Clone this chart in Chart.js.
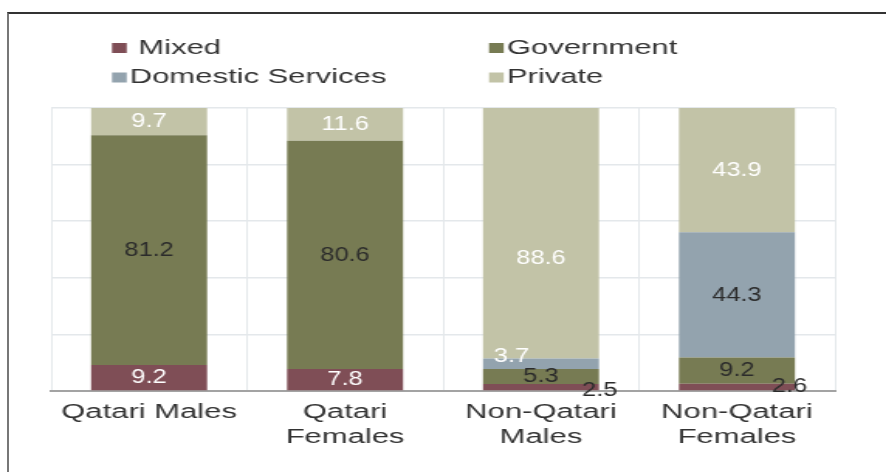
<!DOCTYPE html>
<html>
<head>
<meta charset="utf-8">
<script src="https://cdn.jsdelivr.net/npm/chart.js@4/dist/chart.umd.min.js"></script>
<style>
  html, body { margin: 0; padding: 0; background: #fff; }
  #stage { position: relative; width: 886px; height: 472px; overflow: hidden; }
  /* the reference is stretched sideways, so the chart is drawn narrow and widened */
  #wrap { position: absolute; left: 0; top: 0; width: 572px; height: 472px;
          transform: scaleX(1.549); transform-origin: 0 0; }
  #frame { position: absolute; left: 7px; top: 12px; right: -10px; bottom: -10px;
           border-top: 2px solid #333; border-left: 2px solid #777; }
</style>
</head>
<body>
<div id="stage">
  <div id="wrap"><canvas id="chart" width="572" height="472"></canvas></div>
  <div id="frame"></div>
</div>
<script>
const categories = [['Qatari Males'], ['Qatari', 'Females'], ['Non-Qatari', 'Males'], ['Non-Qatari', 'Females']];
const seriesNames = ['Mixed', 'Government', 'Domestic Services', 'Private'];
const mixed      = [9.2, 7.8, 2.5, 2.6];
const government = [81.2, 80.6, 5.3, 9.2];
const domestic   = [null, null, 3.7, 44.3];
const privateSec = [9.7, 11.6, 88.6, 43.9];
const yTicks = [0, 20, 40, 60, 80, 100];

const colors = ['#7f4e56', '#777b53', '#93a3ae', '#c2c3a7'];
const labelColors = ['#ffffff', '#2b2b2b', '#2b2b2b', '#ffffff'];
// labels that sit off-centre in the reference (dataset:index)
const labelNudge = {
  '0:2': { dx: 38, dy: 3, color: '#2b2b2b' },
  '0:3': { dx: 34, dy: -1, color: '#2b2b2b' },
  '2:2': { dx: -19, dy: -7, color: '#ffffff' },
  '3:2': { dy: 25 }
};

const segLabels = {
  id: 'segLabels',
  afterDatasetsDraw(chart) {
    const ctx = chart.ctx;
    chart.data.datasets.forEach((ds, di) => {
      chart.getDatasetMeta(di).data.forEach((bar, i) => {
        const v = ds.data[i];
        if (v == null) return;
        const o = labelNudge[di + ':' + i] || {};
        ctx.save();
        ctx.translate(bar.x + (o.dx || 0), (bar.y + bar.base) / 2 + (o.dy || 0));
        ctx.scale(0.8, 1);
        ctx.font = '20.5px "Liberation Sans", Arial, sans-serif';
        ctx.fillStyle = o.color || labelColors[di];
        ctx.textAlign = 'center';
        ctx.textBaseline = 'middle';
        ctx.fillText(v.toFixed(1), 0, 0);
        ctx.restore();
      });
    });
  }
};

// two-column legend like the reference
const colLegend = {
  id: 'colLegend',
  afterDraw(chart) {
    const ctx = chart.ctx;
    const cols = [72.3, 315.7];
    const rows = [48, 77.5];
    const order = [[0, 0, 0], [1, 1, 0], [2, 0, 1], [3, 1, 1]];
    ctx.save();
    ctx.font = '20px "Liberation Sans", Arial, sans-serif';
    ctx.textBaseline = 'middle';
    ctx.textAlign = 'left';
    order.forEach(([di, c, r]) => {
      const x = cols[c], y = rows[r];
      ctx.fillStyle = colors[di];
      ctx.fillRect(x, y - 5, 9.5, 10);
      ctx.fillStyle = '#333';
      const txt = di === 0 ? ' ' + seriesNames[di] : seriesNames[di];
      ctx.fillText(txt, x + 11.5, y);
    });
    ctx.restore();
  }
};

const seriesData = [mixed, government, domestic, privateSec];

new Chart(document.getElementById('chart'), {
  type: 'bar',
  data: {
    labels: categories,
    datasets: seriesNames.map((name, i) => ({
      label: name,
      data: seriesData[i],
      backgroundColor: colors[i],
      borderWidth: 0,
      barPercentage: 0.592,
      categoryPercentage: 1,
    })),
  },
  options: {
    responsive: false,
    animation: false,
    events: [],
    layout: { padding: { top: 108, left: 33, right: 33, bottom: 0 } },
    plugins: { legend: { display: false }, tooltip: { enabled: false } },
    scales: {
      x: {
        stacked: true,
        grid: { color: '#e4e8eb', lineWidth: 1, drawTicks: false },
        border: { color: '#a3a3a3', width: 2 },
        ticks: {
          color: '#333',
          padding: 9,
          font: { family: '"Liberation Sans", Arial, sans-serif', size: 20, lineHeight: 1.25 },
          maxRotation: 0,
        },
        afterFit(scale) { scale.height = 81; },
      },
      y: {
        stacked: true,
        min: 0,
        max: 100,
        afterBuildTicks(scale) { scale.ticks = yTicks.map(v => ({ value: v })); },
        grid: { color: '#e4e8eb', lineWidth: 1.5, drawTicks: false },
        border: { display: false },
        ticks: { display: false },
        afterFit(scale) { scale.width = 0; },
      },
    },
  },
  plugins: [segLabels, colLegend],
});
</script>
</body>
</html>
